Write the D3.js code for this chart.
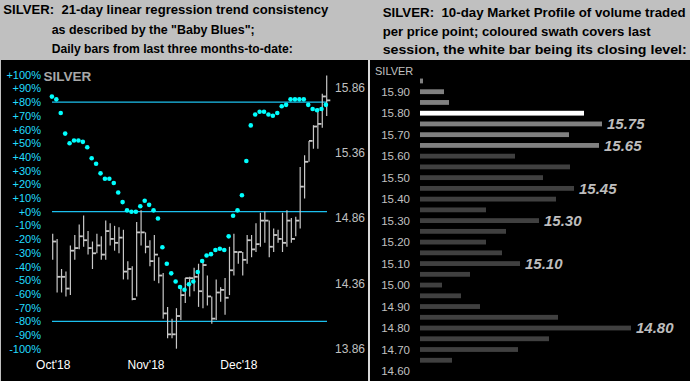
<!DOCTYPE html>
<html><head><meta charset="utf-8">
<script src="https://cdn.jsdelivr.net/npm/d3@7"></script>
<style>
body{margin:0;background:#c0c0c0;overflow:hidden}
svg{display:block}
text{font-family:"Liberation Sans",Arial,sans-serif}
</style>
</head><body><svg id="c" width="690" height="381"></svg>
<script>
// ---------- LEFT CHART DATA (daily bars, index 0 = first session of Oct'18) ----------
const highs = [14.74,14.70,14.47,14.45,14.65,14.73,14.81,14.88,14.76,14.68,
  14.74,14.72,14.84,14.82,14.80,14.79,14.77,14.53,14.49,14.83,
  14.92,14.75,14.69,14.73,14.56,14.44,14.18,14.09,14.17,14.33,
  14.40,14.41,14.48,14.51,14.53,14.42,14.26,14.39,14.33,14.40,
  14.64,14.74,14.60,14.60,14.73,14.73,14.82,14.90,14.91,14.84,
  14.78,14.77,14.90,14.92,14.86,14.87,15.25,15.34,15.45,15.57,
  15.70,15.81,15.95];
const lows = [14.54,14.29,14.29,14.26,14.27,14.54,14.62,14.64,14.58,14.47,
  14.59,14.54,14.54,14.65,14.61,14.59,14.39,14.39,14.23,14.26,
  14.65,14.59,14.49,14.38,14.36,14.09,13.94,13.94,13.86,14.08,
  14.21,14.26,14.30,14.18,14.17,14.19,14.05,14.08,14.22,14.12,
  14.27,14.42,14.51,14.42,14.51,14.56,14.60,14.64,14.67,14.56,
  14.60,14.67,14.60,14.64,14.67,14.72,14.78,15.01,15.29,15.39,
  15.39,15.55,15.64];
const closes = [14.68,14.41,14.41,14.32,14.61,14.63,14.72,14.69,14.63,14.59,
  14.65,14.58,14.76,14.70,14.67,14.71,14.45,14.47,14.24,14.75,
  14.75,14.64,14.53,14.58,14.42,14.13,13.97,13.97,14.11,14.27,
  14.40,14.40,14.41,14.30,14.50,14.26,14.09,14.29,14.31,14.25,
  14.46,14.60,14.60,14.54,14.69,14.62,14.66,14.84,14.84,14.64,
  14.73,14.70,14.67,14.84,14.70,14.84,15.10,15.29,15.45,15.56,
  15.58,15.79,15.76];
// Baby Blues: 21-day linear regression trend consistency (%)
const babyBlues = [84,82,72,57,50,52,52,51,47,39,
  35,28,24,24,21,14,7,1,0,0,
  4,8,5,1,-5,-26,-38,-45,-51,-55,
  -57,-53,-51,-44,-36,-32,-31,-28,-27,-28,
  -18,-3,1,12,37,63,71,73,73,71,
  70,72,77,78,82,82,82,82,78,75,
  74,75,78];
const pctTicks = [100,90,80,70,60,50,40,30,20,10,0,-10,-20,-30,-40,-50,-60,-70,-80,-90,-100];
const refLines = [80,0,-80];
const priceTicks = [13.86,14.36,14.86,15.36,15.86];
const months = ["Oct'18","Nov'18","Dec'18"];
const monthStartIdx = [0,21,42];

// ---------- RIGHT CHART DATA (10-day market profile) ----------
const profileLevels = [15.95,15.90,15.85,15.80,15.75,15.70,15.65,15.60,15.55,15.50,
  15.45,15.40,15.35,15.30,15.25,15.20,15.15,15.10,15.05,15.00,
  14.95,14.90,14.85,14.80,14.75,14.70,14.65];
const profileVolume = [3,24,29,164,182,149,179,95,150,123,
  154,136,66,119,86,66,82,100,50,22,
  41,60,138,211,129,98,32];
const lastSessionLow = 15.65, lastSessionHigh = 15.95;
const closingLevel = 15.80;
const labelledLevels = [15.75,15.65,15.45,15.30,15.10,14.80];
const profileTicks = [15.90,15.80,15.70,15.60,15.50,15.40,15.30,15.20,15.10,15.00,14.90,14.80,14.70,14.60];

// ---------- TITLES ----------
const leftTitle = ["SILVER:  21-day linear regression trend consistency",
  "as described by the \"Baby Blues\";",
  "Daily bars from last three months-to-date:"];
const rightTitle = ["SILVER:  10-day Market Profile of volume traded",
  "per price point; coloured swath covers last",
  "session, the white bar being its closing level:"];

const svg = d3.select("#c");
svg.append("rect").attr("width",690).attr("height",381).attr("fill","#c0c0c0");
svg.append("rect").attr("x",1).attr("y",60).attr("width",367).attr("height",321).attr("fill","#000");
svg.append("rect").attr("x",370).attr("y",60).attr("width",320).attr("height",321).attr("fill","#000");
svg.append("rect").attr("x",368).attr("y",60).attr("width",2).attr("height",321).attr("fill","#d8d8d8");

// titles
const tl = [{x:3.3,y:14,w:325},{x:51.7,y:34,w:203},{x:51.7,y:53,w:241}];
const tr = [{x:382.7,y:17.3,w:303},{x:382.7,y:35.5,w:268},{x:382.7,y:53.5,w:304}];
function titles(lines,pos){
  svg.append("g").selectAll("text").data(lines).join("text")
    .attr("x",(d,i)=>pos[i].x).attr("y",(d,i)=>pos[i].y)
    .attr("textLength",(d,i)=>pos[i].w).attr("lengthAdjust","spacingAndGlyphs")
    .style("white-space","pre")
    .attr("font-size",13.5).attr("font-weight","bold").attr("fill","#000")
    .text(d=>d);
}
titles(leftTitle,tl); titles(rightTitle,tr);

// ---------- LEFT CHART ----------
const x = d3.scaleLinear().domain([0,62]).range([52.7,326.7]);
const yPct = d3.scaleLinear().domain([-100,100]).range([348.7,74.7]);
const yPrice = d3.scaleLinear().domain([13.86,15.86]).range([348.7,87.3]);

const pctAxis = svg.append("g").attr("transform","translate(41,0)")
  .call(d3.axisLeft(yPct).tickValues(pctTicks).tickSize(0).tickPadding(0)
    .tickFormat(d=>(d>=0?"+":"")+d+"%"));
pctAxis.select(".domain").remove();
pctAxis.selectAll("text").attr("fill","#22ddff").attr("font-size",11).attr("font-family","Liberation Sans, Arial");

const priceAxis = svg.append("g").attr("transform","translate(335,0)")
  .call(d3.axisRight(yPrice).tickValues(priceTicks).tickSize(0).tickPadding(0).tickFormat(d3.format(".2f")));
priceAxis.select(".domain").remove();
priceAxis.selectAll("text").attr("fill","#c0c0c0").attr("font-size",12).attr("font-family","Liberation Sans, Arial");

const monthAxis = svg.append("g").attr("transform","translate(0,360.5)")
  .call(d3.axisBottom(x).tickValues(monthStartIdx).tickSize(0).tickPadding(0).tickFormat((d,i)=>months[i]));
monthAxis.select(".domain").remove();
monthAxis.selectAll("text").attr("fill","#fff").attr("font-size",12).attr("font-family","Liberation Sans, Arial");

svg.append("text").attr("x",43.5).attr("y",81).attr("font-size",13.5).attr("font-weight","bold")
  .attr("fill","#a8a8a8").text("SILVER");

svg.append("g").selectAll("line").data(refLines).join("line")
  .attr("x1",52).attr("x2",327).attr("y1",d=>yPct(d)).attr("y2",d=>yPct(d))
  .attr("stroke","#1cc0ee").attr("stroke-width",1.2);

const bars = svg.append("g").attr("stroke","#c8c8c8");
bars.selectAll("line.hl").data(highs).join("line").attr("class","hl")
  .attr("x1",(d,i)=>x(i)).attr("x2",(d,i)=>x(i))
  .attr("y1",d=>yPrice(d)).attr("y2",(d,i)=>yPrice(lows[i]))
  .attr("stroke-width",1.2);
bars.selectAll("line.cl").data(closes).join("line").attr("class","cl")
  .attr("x1",(d,i)=>x(i)).attr("x2",(d,i)=>x(i)+3.6)
  .attr("y1",d=>yPrice(d)).attr("y2",d=>yPrice(d))
  .attr("stroke-width",1.8);

svg.append("g").selectAll("circle").data(babyBlues).join("circle")
  .attr("cx",(d,i)=>x(i)-0.8).attr("cy",d=>yPct(d)).attr("r",2.3).attr("fill","#00ffff");

// ---------- RIGHT CHART ----------
const yProf = d3.scaleLinear().domain([14.60,15.90]).range([371,91.7]);
const xProf = d3.scaleLinear().domain([0,211]).range([420,631]);

const profAxis = svg.append("g").attr("transform","translate(410,0)")
  .call(d3.axisLeft(yProf).tickValues(profileTicks).tickSize(0).tickPadding(0).tickFormat(d3.format(".2f")));
profAxis.select(".domain").remove();
profAxis.selectAll("text").attr("fill","#c0c0c0").attr("font-size",11.5).attr("font-family","Liberation Sans, Arial");

svg.append("text").attr("x",375).attr("y",74.5).attr("font-size",11).attr("fill","#c0c0c0").text("SILVER");

svg.append("g").selectAll("rect").data(profileLevels).join("rect")
  .attr("x",xProf(0)).attr("y",d=>yProf(d)-2.4)
  .attr("width",(d,i)=>xProf(profileVolume[i])-xProf(0)).attr("height",4.8)
  .attr("fill",d=>Math.abs(d-closingLevel)<1e-6 ? "#ffffff"
      : (d>=lastSessionLow-1e-6 && d<=lastSessionHigh+1e-6) ? "#808080" : "#404040");

svg.append("g").selectAll("text").data(labelledLevels).join("text")
  .attr("x",d=>xProf(profileVolume[profileLevels.findIndex(l=>Math.abs(l-d)<1e-6)])+5)
  .attr("y",d=>yProf(d)).attr("dy","0.36em")
  .attr("font-size",15).attr("font-weight","bold").attr("font-style","italic")
  .attr("fill","#bdbdbd").text(d=>d.toFixed(2));
</script>
</body></html>
